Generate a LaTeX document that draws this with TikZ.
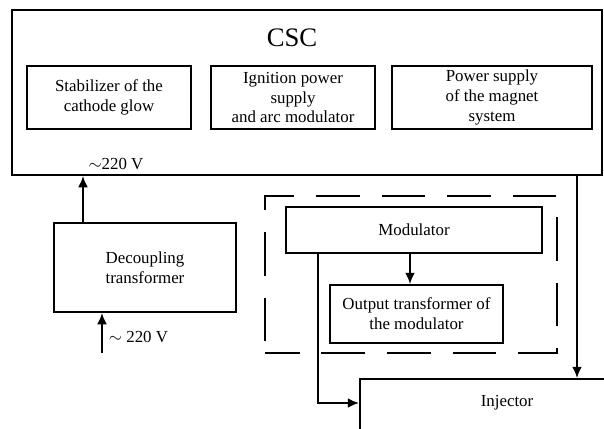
\documentclass[tikz,border=0pt]{standalone}
\usepackage{fontspec}
\setmainfont{Liberation Serif}
\usetikzlibrary{positioning,shapes,arrows,arrows.meta}

\begin{document}
\begin{tikzpicture}[x=0.025cm,y=-0.025cm,
    box/.style={draw,line width=1.4pt,align=center,inner sep=0pt,font=\fontsize{12}{14.2}\selectfont},
    txt/.style={font=\fontsize{12}{14.2}\selectfont},
    groupbox/.style={draw,line width=2pt,dash pattern=on 31pt off 15.6pt,dash phase=6.4pt},
    arr/.style={-{Latex[length=8pt,width=7pt]},line width=1.4pt}]
    \useasboundingbox (0,0) rectangle (604,428);

    % control system cabinet
    \node[box, minimum width=14.75cm, minimum height=4.125cm](csc) at (307,92.5){};
    \node[font=\fontsize{19}{22}\selectfont](csctitle) at (292,38){CSC};
    \node[box, minimum width=4.1cm, minimum height=1.575cm](stab) at (109,97.5){Stabilizer of the\\cathode glow};
    \node[box, right=0.45cm of stab, minimum width=4.1cm, minimum height=1.575cm](ign){Ignition power\\supply\\and arc modulator};
    \node[box, minimum width=5cm, minimum height=1.575cm](pwr) at (492,97.5){Power supply\\of the magnet\\system};
    \node[txt](vcsc) at (116,164){$\sim$220 V};

    \node[box, minimum width=4.55cm, minimum height=2.225cm](dec) at (145,267.5){Decoupling\\transformer};

    % modulator group
    \node[groupbox, minimum width=7.3cm, minimum height=3.925cm](grp) at (411,274.5){};
    \node[box, minimum width=6.4cm, minimum height=1.15cm](mod) at (414,230){Modulator};
    \node[box, minimum width=4.325cm, minimum height=1.45cm](outtr) at (416.5,314){Output transformer of\\the modulator};

    \node[box, anchor=north west, minimum width=7.5cm, minimum height=2cm](inj) at (359,378){};
    \node[txt](injtxt) at (507,403){Injector};

    \coordinate(up) at (83,0);
    \coordinate(in) at (102,353);
    \coordinate(mo) at (410,0);
    \coordinate(tap) at (318,403);
    \coordinate(ret) at (577,0);

    \draw[arr] (dec.north -| up) -- (csc.south -| up);
    \draw[arr] (in) -- (in |- dec.south);
    \node[txt, anchor=west](vin) at (104,337){$\sim$ 220 V};
    \draw[arr] (mod.south -| mo) -- (outtr.north -| mo);
    \draw[arr] (mod.south -| tap) |- (inj.west |- tap);
    \draw[arr] (csc.south -| ret) -- (inj.north -| ret);
\end{tikzpicture}
\end{document}
